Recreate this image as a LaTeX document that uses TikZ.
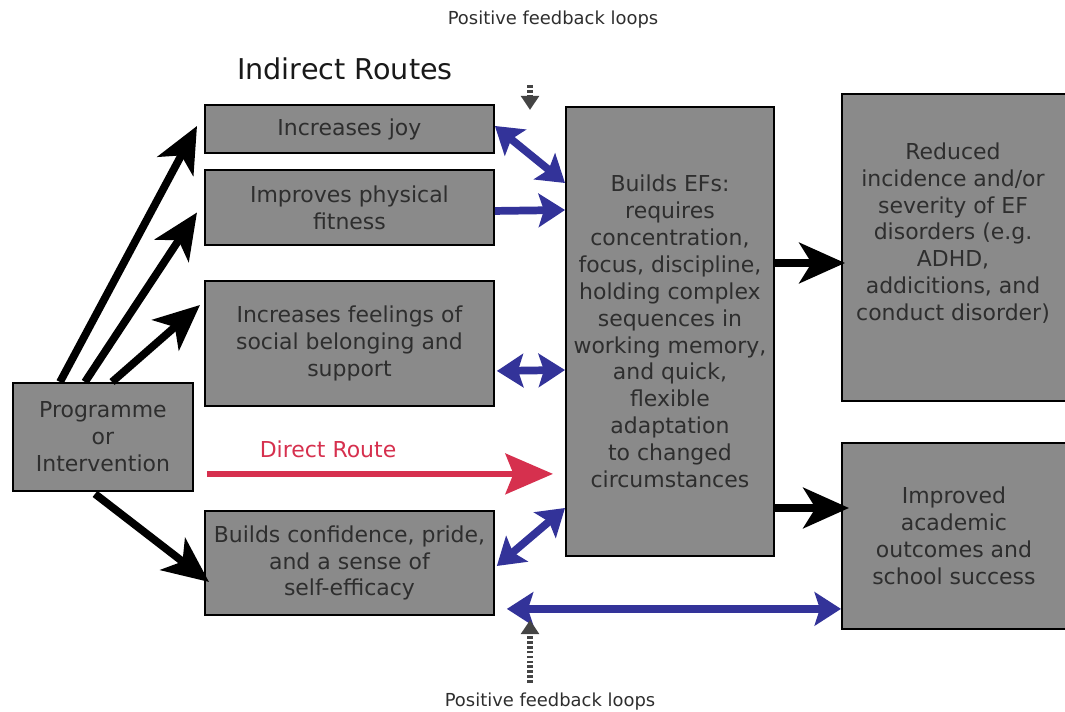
\documentclass[tikz,border=0pt]{standalone}
\usepackage{fontspec}
\setmainfont{DejaVu Sans}
\usetikzlibrary{arrows.meta,calc}
\definecolor{boxgray}{HTML}{8A8A8A}
\definecolor{txtgray}{HTML}{2E2E2E}
\definecolor{efblue}{HTML}{333399}
\definecolor{routered}{HTML}{D6304E}
\definecolor{loopgray}{HTML}{444444}
\begin{document}
\begin{tikzpicture}[x=0.02cm,y=-0.02cm,
  box/.style={draw=black, line width=1.1pt, fill=boxgray, text=txtgray,
    align=center, anchor=north west, inner sep=0pt,
    font=\fontsize{12.5}{15.3}\selectfont},
  blkarrow/.style={draw=black, line width=4.4pt,
    -{Stealth[length=26pt,width=23pt,inset=7pt]}},
  bluearrow/.style={draw=efblue, line width=4.4pt,
    -{Stealth[length=15pt,width=19pt,inset=3pt]}},
  bluedouble/.style={draw=efblue, line width=4.4pt,
    {Stealth[length=15pt,width=19pt,inset=3pt]}-{Stealth[length=15pt,width=19pt,inset=3pt]}},
  redarrow/.style={draw=routered, line width=3.4pt,
    -{Stealth[length=27pt,width=23pt,inset=4.5pt]}},
  looparrow/.style={draw=loopgray, line width=3pt, dash pattern=on 1.6pt off 1.2pt,
    -{Triangle[length=8pt,width=10pt]}},
  looplabel/.style={text=txtgray, font=\fontsize{10.2}{12}\selectfont},
]
\useasboundingbox (0,0) rectangle (1065,712);

% headings
\node[font=\fontsize{16.3}{19}\selectfont, text=black!90] (indirect) at (345,69) {Indirect Routes};
\node[looplabel] (looptop) at (553,20) {Positive feedback loops};
\node[looplabel] (loopbot) at (550,702) {Positive feedback loops};

% boxes
\node[box, minimum width=5.78cm, minimum height=0.96cm] (joy) at (204,104) {Increases joy};
\node[box, minimum width=5.78cm, minimum height=1.50cm] (fit) at (204,169) {Improves physical\\fitness};
\node[box, minimum width=5.78cm, minimum height=2.50cm] (soc) at (204,280) {Increases feelings of\\social belonging and\\support};
\node[box, minimum width=3.60cm, minimum height=2.16cm] (prog) at (12,382) {Programme\\or\\Intervention};
\node[box, minimum width=5.78cm, minimum height=2.08cm] (conf) at (204,510) {Builds confidence, pride,\\and a sense of\\self-efficacy};
\node[box, minimum width=4.16cm, minimum height=8.98cm] (ef) at (565,106)
  {Builds EFs:\\requires\\concentration,\\focus, discipline,\\holding complex\\sequences in\\working memory,\\and quick,\\flexible\\adaptation\\to changed\\circumstances};
\node[box, minimum width=4.48cm, minimum height=6.14cm] (red) at (841,93) {};
\node[text=txtgray, align=center, font=\fontsize{12.5}{15.3}\selectfont] (redtxt) at (953,233)
  {Reduced\\incidence and/or\\severity of EF\\disorders (e.g.\\ADHD,\\addicitions, and\\conduct disorder)};
\node[box, minimum width=4.48cm, minimum height=3.72cm] (imp) at (841,442) {Improved\\academic\\outcomes and\\school success};

% indirect routes out of the programme
\draw[blkarrow] ($(prog.north west)+(48,0)$) -- ($(joy.west)+(-7,-3)$);
\draw[blkarrow] ($(prog.north west)+(73,0)$) -- ($(fit.west)+(-7,5)$);
\draw[blkarrow] ($(prog.north west)+(100,0)$) -- ($(soc.north west)+(-4,25)$);
\draw[blkarrow] ($(prog.south west)+(83,2)$) -- ($(conf.west)+(5,19)$);

% direct route
\coordinate (dstart) at ($(prog.south east)+(13,-18)$);
\draw[redarrow] (dstart) -- ($(dstart -| ef.west)+(-12,0)$)
  node[pos=0.35, above=4pt, text=routered, font=\fontsize{12.5}{15.3}\selectfont] (direct) {Direct Route};

% links into the EF box
\draw[bluedouble] ($(joy.east)+(0,-3)$) -- ($(ef.north west)+(0,77)$);
\draw[bluearrow] ($(fit.east)+(0,3.5)$) -- ($(ef.north west)+(0,104)$);
\draw[bluedouble] ($(soc.east)+(2,27.5)$) -- ($(ef.north west)+(0,264)$);
\draw[bluedouble] ($(conf.east)+(2,3)$) -- ($(ef.north west)+(0,402)$);
\coordinate (bstart) at ($(conf.south east)+(12,-7)$);
\draw[bluedouble] (bstart) -- (bstart -| imp.west);

% outcomes
\draw[blkarrow] ($(ef.north east)+(0,157)$) -- ($(red.north west)+(4,170)$);
\draw[blkarrow] ($(ef.north east)+(0,402)$) -- ($(imp.north west)+(8,66)$);

% feedback loops
\coordinate (ltop) at (530,85);
\coordinate (lbot) at (530,683);
\draw[looparrow] (ltop) -- ($(ltop)+(0,25)$);
\draw[looparrow] (lbot) -- ($(lbot)+(0,-63)$);
\end{tikzpicture}
\end{document}
